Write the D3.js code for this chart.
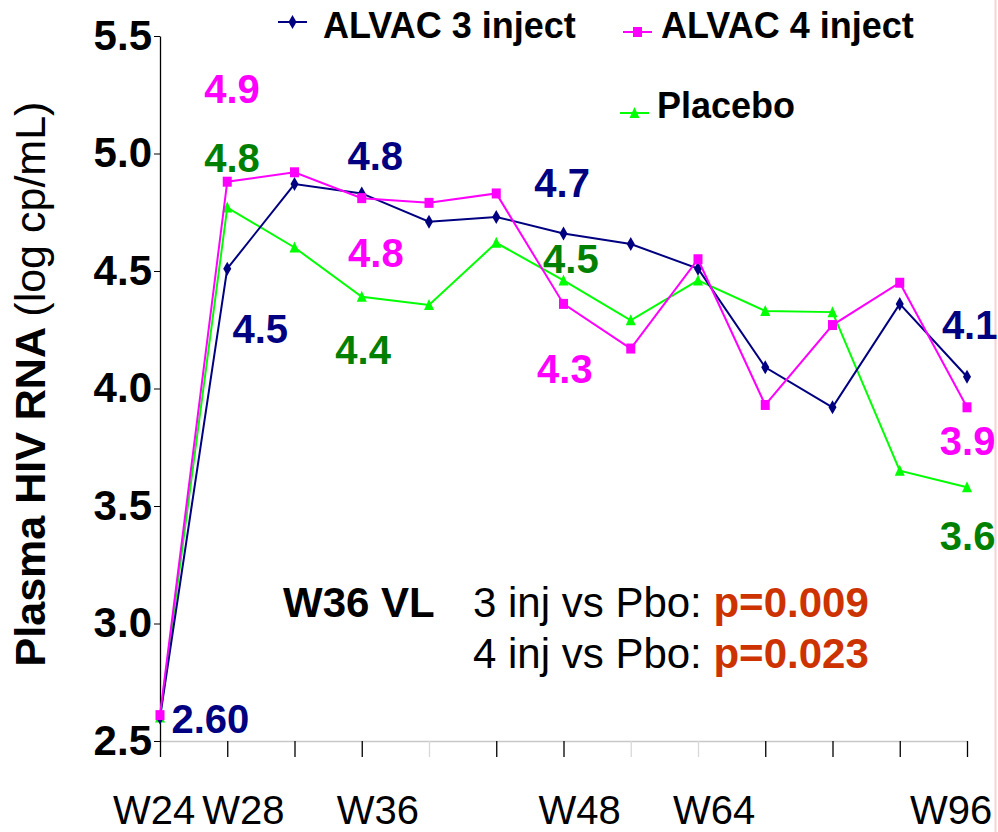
<!DOCTYPE html>
<html>
<head>
<meta charset="utf-8">
<script src="https://cdn.jsdelivr.net/npm/d3@7/dist/d3.min.js"></script>
<style>
  html, body { margin: 0; padding: 0; background: #ffffff; }
  svg { display: block; font-family: Arial, "Liberation Sans", Helvetica, sans-serif; }
</style>
</head>
<body>
<svg id="chart" width="998" height="832"></svg>
<script>
// ---------- data ----------
const categories = ["W24","W28","W32","W36","W40","W44","W48","W56","W64","W72","W80","W88","W96"];
const shownTickLabels = ["W24","W28","W36","W48","W64","W96"];
const yTicks = [2.5, 3.0, 3.5, 4.0, 4.5, 5.0, 5.5];

const seriesNames = ["ALVAC 3 inject", "ALVAC 4 inject", "Placebo"];
const alvac3 = [2.60, 4.51, 4.87, 4.83, 4.71, 4.73, 4.66, 4.615, 4.51, 4.09, 3.92, 4.36, 4.05];
const alvac4 = [2.61, 4.88, 4.92, 4.81, 4.79, 4.83, 4.36, 4.17, 4.55, 3.93, 4.27, 4.45, 3.92];
const placebo = [2.60, 4.77, 4.60, 4.39, 4.355, 4.62, 4.46, 4.29, 4.46, 4.33, 4.325, 3.65, 3.58];

// value labels: text, series, position in (category index, value) space
const labelTexts = ["4.9","4.8","4.8","4.8","4.5","4.4","4.7","4.5","4.3","4.1","3.9","3.6","2.60"];
const labelSeries = [1, 2, 0, 1, 0, 2, 0, 2, 1, 0, 1, 2, 0];
const labelIdx = [1.07, 1.07, 3.20, 3.21, 1.49, 3.02, 5.98, 6.11, 6.02, 12.04, 12.01, 12.01, 0.75];
const labelVal = [5.215, 4.921, 4.930, 4.517, 4.194, 4.104, 4.815, 4.491, 4.023, 4.211, 3.717, 3.313, 2.534];

const annoTitle = "W36 VL";
const annoLines = ["3 inj vs Pbo: ", "4 inj vs Pbo: "];
const annoPvals = ["p=0.009", "p=0.023"];

// ---------- styles ----------
const lineColors = ["#000080", "#FF00FF", "#00FF00"];
const labelColors = ["#000080", "#FF00FF", "#008000"];
const markerTypes = ["diamond", "square", "triangle"];
const pColor = "#CC3300";

// ---------- layout ----------
const svg = d3.select("#chart");
const x = d3.scalePoint().domain(categories).range([160, 967]);
const xIdx = d3.scaleLinear().domain([0, categories.length - 1]).range([160, 967]);
const y = d3.scaleLinear().domain([2.5, 5.5]).range([741, 36]);

// right edge faint border
svg.append("line").attr("x1", 995.5).attr("x2", 995.5).attr("y1", 0).attr("y2", 832)
  .attr("stroke", "#f3d6d4").attr("stroke-width", 2);

// x axis
const xAxis = d3.axisBottom(x).tickSize(16).tickSizeOuter(0).tickFormat("");
const gx = svg.append("g").attr("transform", "translate(0,741)").call(xAxis);
gx.select(".domain").attr("stroke", "#c8c8c8").attr("stroke-width", 1.5);
const lightTicks = new Set(["W40", "W56", "W64"]);
gx.selectAll(".tick line")
  .attr("stroke", d => lightTicks.has(d) ? "#d8d8d8" : "#000")
  .attr("stroke-width", 1.3);

// x tick labels (placed like the original text boxes)
const labelShift = {"W24": -6, "W96": -16};
svg.append("g").selectAll("text").data(shownTickLabels).join("text")
  .attr("x", d => x(d) + (labelShift[d] !== undefined ? labelShift[d] : 16))
  .attr("y", 824)
  .attr("text-anchor", "middle")
  .attr("font-size", 40)
  .attr("fill", "#000")
  .text(d => d);

// y axis
const yAxis = d3.axisLeft(y).tickValues(yTicks).tickFormat(d3.format(".1f")).tickSize(6).tickSizeOuter(0).tickPadding(2);
const gy = svg.append("g").attr("transform", "translate(160,0)").call(yAxis);
gy.select(".domain").attr("stroke", "#000").attr("stroke-width", 1.3);
gy.selectAll(".tick line").attr("stroke", "#000");
gy.selectAll(".tick text").attr("font-size", 42).attr("font-weight", "bold").attr("fill", "#000")
  .attr("font-family", "Arial, 'Liberation Sans', sans-serif");

// y axis title
const yt = svg.append("text")
  .attr("transform", "translate(45,384) rotate(-90)")
  .attr("text-anchor", "middle")
  .attr("font-size", 43)
  .attr("fill", "#000");
yt.append("tspan").attr("font-weight", "bold").text("Plasma HIV RNA ");
yt.append("tspan").text("(log cp/mL)");

// marker generator
function marker(sel, type, color) {
  if (type === "diamond") {
    sel.append("path").attr("d", "M0,-7L4,0L0,7L-4,0Z").attr("fill", color);
  } else if (type === "square") {
    sel.append("rect").attr("x", -4.5).attr("y", -5).attr("width", 9).attr("height", 10).attr("fill", color);
  } else {
    sel.append("path").attr("d", "M0,-6L5,5L-5,5Z").attr("fill", color);
  }
}

// series
const allSeries = [alvac3, alvac4, placebo];
const line = d3.line().x((d, i) => x(categories[i])).y(d => y(d));
const drawOrder = [2, 0, 1];
drawOrder.forEach(s => {
  const g = svg.append("g");
  g.append("path").datum(allSeries[s]).attr("d", line)
    .attr("fill", "none").attr("stroke", lineColors[s]).attr("stroke-width", 2);
  g.selectAll("g.pt").data(allSeries[s]).join("g").attr("class", "pt")
    .attr("transform", (d, i) => `translate(${x(categories[i])},${y(d)})`)
    .each(function() { marker(d3.select(this), markerTypes[s], lineColors[s]); });
});

// value labels
svg.append("g").selectAll("text").data(labelTexts).join("text")
  .attr("x", (d, i) => xIdx(labelIdx[i]))
  .attr("y", (d, i) => y(labelVal[i]))
  .attr("text-anchor", "middle")
  .attr("font-size", 40)
  .attr("font-weight", "bold")
  .attr("fill", (d, i) => labelColors[labelSeries[i]])
  .text(d => d);

// legend
const legendX = [278, 623, 620];
const legendLineY = [22, 32, 113];
const legendTextX = [323, 661, 657];
const legendTextY = [38, 38, 118];
const lg = svg.append("g");
seriesNames.forEach((name, s) => {
  lg.append("line").attr("x1", legendX[s]).attr("x2", legendX[s] + 29)
    .attr("y1", legendLineY[s]).attr("y2", legendLineY[s])
    .attr("stroke", lineColors[s]).attr("stroke-width", 2);
  const m = lg.append("g").attr("transform", `translate(${legendX[s] + 14.5},${legendLineY[s]})`);
  marker(m, markerTypes[s], lineColors[s]);
  lg.append("text").attr("x", legendTextX[s]).attr("y", legendTextY[s])
    .attr("font-size", 36).attr("font-weight", "bold").attr("fill", "#000").text(name);
});

// annotation
svg.append("text").attr("x", 283).attr("y", 617).attr("font-size", 42).attr("font-weight", "bold")
  .attr("fill", "#000").text(annoTitle);
annoLines.forEach((t, i) => {
  const tx = svg.append("text").attr("x", 473).attr("y", 617 + i * 51).attr("font-size", 42).attr("fill", "#000");
  tx.append("tspan").text(t);
  tx.append("tspan").attr("font-weight", "bold").attr("fill", pColor).text(annoPvals[i]);
});
</script>
</body>
</html>
